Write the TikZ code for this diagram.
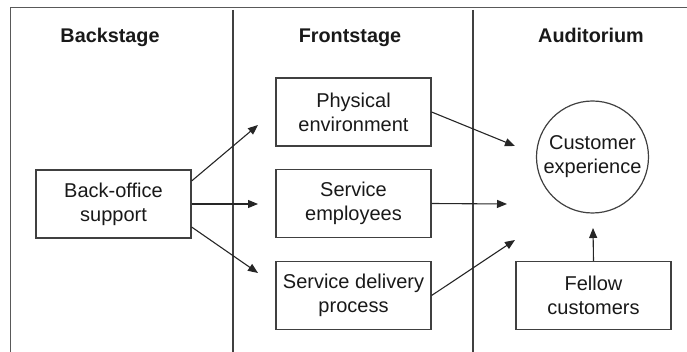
\documentclass[tikz,border=0pt]{standalone}
\usepackage{fontspec}
\setmainfont{Liberation Sans}
\usetikzlibrary{arrows.meta}
\usetikzlibrary{positioning}

\begin{document}
\begin{tikzpicture}[x=1pt,y=-1pt,
  box/.style={draw=black!75,line width=1.2pt,minimum width=155pt,minimum height=68pt,inner sep=0pt,align=center,text=black!90,font=\fontsize{20}{24}\selectfont},
  head/.style={anchor=base,text=black!90,font=\bfseries\fontsize{19.8}{24}\selectfont},
  arr/.style={-{Triangle[length=10pt,width=8pt]},line width=1.1pt,draw=black!85}]
\useasboundingbox (0,0) rectangle (687,352);
\draw[line width=1.5pt,black!65] (10.5,352)--(10.5,7.5)--(687,7.5);
\draw[line width=1.2pt,black!75] (233,10)--(233,352);
\draw[line width=1.2pt,black!75] (473,10)--(473,352);
\node[head] (back) at (110,43) {Backstage};
\node[head] (front) at (350,43) {Frontstage};
\node[head] (aud) at (591,43) {Auditorium};
\node[box] (bo) at (113.5,204) {Back-office\\support};
\node[box] (pe) at (353.5,112) {Physical\\environment};
\node[box] (se) at (353.5,203.5) {Service\\employees};
\node[box] (sd) at (353.5,295.5) {Service delivery\\process};
\node[box] (fc) at (593.5,295.5) {Fellow\\customers};
\node[draw=black!75,line width=1.2pt,circle,minimum size=112pt,inner sep=0pt,align=center,text=black!90,font=\fontsize{20}{24}\selectfont] (cx) at (592.5,157) {Customer\\experience};
% free arrow ends
\coordinate (t1) at (258,125);
\coordinate (t2) at (258,204);
\coordinate (t3) at (258,273);
\coordinate (u1) at (515,146);
\coordinate (u2) at (507,204);
\coordinate (u3) at (515,240);
\coordinate (u4) at (593,228);
\draw[arr] ([yshift=23pt]bo.east)--(t1);
\draw[arr] (bo.east)--(t2);
\draw[arr] ([yshift=-23pt]bo.east)--(t3);
\draw[arr] (pe.east)--(u1);
\draw[arr] (se.east)--(u2);
\draw[arr] (sd.east)--(u3);
\draw[arr] (fc.north)--(u4);
\end{tikzpicture}
\end{document}
